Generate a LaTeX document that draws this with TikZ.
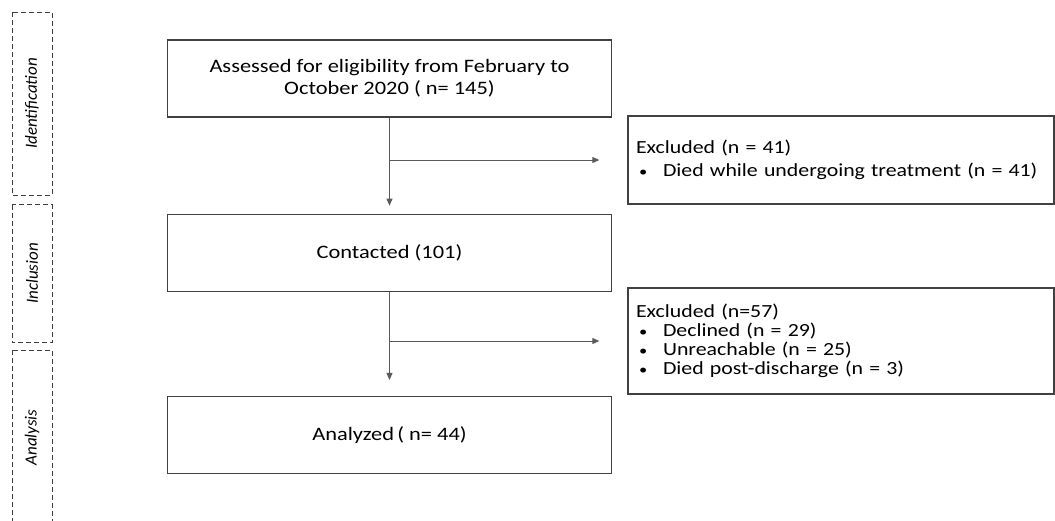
\documentclass[tikz,border=0pt]{standalone}
\usepackage{fontspec}
\setmainfont{Carlito}[FakeStretch=1.18]
\newfontfamily\phasefont{Carlito}
\usetikzlibrary{arrows.meta,positioning}
\definecolor{boxgray}{RGB}{64,64,64}
\definecolor{arrowgray}{RGB}{90,90,90}
\newcommand{\exclitem}{\hspace{3pt}\makebox[24pt][l]{\fontsize{14}{14}\selectfont\textbullet}}

\begin{document}
\begin{tikzpicture}[
        x=1pt, y=-1pt,
        font=\fontsize{19}{22}\selectfont,
        stage/.style={rectangle, draw=boxgray, line width=1.3pt, minimum width=444pt, minimum height=77pt, inner sep=0pt, align=center},
        exclbox/.style={rectangle, draw=boxgray, line width=1.3pt, minimum width=426pt, minimum height=#1, inner xsep=8pt, inner ysep=0pt, text width=410pt, align=left},
        phase/.style={rectangle, draw=boxgray, dash pattern=on 5pt off 3pt, line width=1pt, rotate=90, minimum width=#1, minimum height=40pt, inner sep=0pt, font=\phasefont\fontsize{17}{20}\selectfont\itshape},
        arrow/.style={-{Triangle[length=7pt,width=6pt]}, draw=arrowgray, line width=0.9pt}
    ]
        \useasboundingbox (0,0) rectangle (1055,520);

        \node[phase=183pt] (ident) at (32,103.5) {Identification};
        \node[phase=138pt] (incl) at (32,273.5) {Inclusion};
        \node[phase=175pt] (anal) at (32,437.5) {Analysis};

        \node[stage] (assessed) at (389.5,78.5) {Assessed for eligibility from February to\\October 2020 ( n= 145)};
        \node[stage, below=96pt of assessed] (contacted) {Contacted (101)};
        \node[stage, below=104pt of contacted] (analyzed) {Analyzed\,( n= 44)};

        \node[exclbox=88pt, font=\fontsize{18.5}{22}\selectfont] (excl1) at (841,160) {Excluded (n = 41)\\[1pt]\exclitem Died while undergoing treatment (n = 41)};
        \node[exclbox=106pt, font=\fontsize{18.5}{19}\selectfont] (excl2) at (841,341) {Excluded (n=57)\\\exclitem Declined (n = 29)\\\exclitem Unreachable (n = 25)\\\exclitem Died post-discharge (n = 3)};

        \draw[arrow] (assessed.south) -- ([yshift=8pt]contacted.north);
        \draw[arrow] (assessed.south |- excl1.west) -- ([xshift=-28pt]excl1.west);
        \draw[arrow] (contacted.south) -- ([yshift=16pt]analyzed.north);
        \draw[arrow] (contacted.south |- excl2.west) -- ([xshift=-28pt]excl2.west);
    \end{tikzpicture}
\end{document}
